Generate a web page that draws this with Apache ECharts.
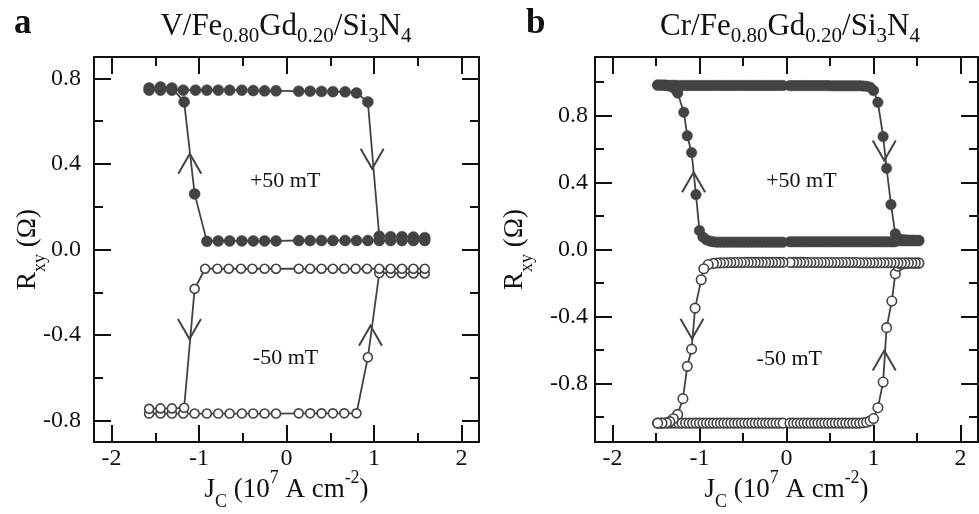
<!DOCTYPE html>
<html><head><meta charset="utf-8">
<script src="https://cdn.jsdelivr.net/npm/echarts@6/dist/echarts.min.js"></script>
<style>html,body{margin:0;padding:0;background:#fff}#c{width:979px;height:514px}</style>
</head><body><div id="c"></div><script>
// ---------------- DATA ----------------
// Panel a : V/Fe0.80Gd0.20/Si3N4  (sweep order: -J -> +J, then +J -> -J)
const aFilledJ = [-1.57,-1.44,-1.31,-1.18,-1.04,-0.91,-0.78,-0.65,-0.51,-0.38,-0.25,-0.12,0.14,0.27,0.40,0.53,0.67,0.80,0.93,1.06,1.19,1.32,1.45,1.58,
                  1.58,1.45,1.32,1.19,1.06,0.93,0.80,0.67,0.53,0.40,0.27,0.14,-0.12,-0.25,-0.38,-0.51,-0.65,-0.78,-0.91,-1.05,-1.17,-1.31,-1.44,-1.57];
const aFilledR = [0.745,0.745,0.745,0.745,0.745,0.745,0.745,0.745,0.745,0.743,0.742,0.742,0.740,0.740,0.739,0.738,0.737,0.732,0.690,0.062,0.060,0.060,0.058,0.055,
                  0.042,0.042,0.042,0.042,0.042,0.042,0.042,0.042,0.042,0.042,0.042,0.042,0.040,0.040,0.040,0.040,0.040,0.040,0.038,0.260,0.690,0.755,0.760,0.755];
const aOpenJ = [-1.57,-1.44,-1.31,-1.18,-1.05,-0.91,-0.78,-0.65,-0.51,-0.38,-0.25,-0.12,0.14,0.27,0.40,0.53,0.66,0.80,0.93,1.06,1.19,1.32,1.45,1.58,
                1.58,1.45,1.32,1.19,1.06,0.92,0.79,0.66,0.53,0.40,0.27,0.14,-0.12,-0.25,-0.39,-0.52,-0.66,-0.79,-0.93,-1.05,-1.17,-1.31,-1.44,-1.57];
const aOpenR = [-0.767,-0.767,-0.767,-0.767,-0.767,-0.767,-0.767,-0.767,-0.767,-0.767,-0.767,-0.767,-0.766,-0.766,-0.766,-0.766,-0.766,-0.766,-0.504,-0.110,-0.110,-0.112,-0.112,-0.112,
                -0.090,-0.090,-0.090,-0.090,-0.090,-0.090,-0.090,-0.090,-0.090,-0.090,-0.090,-0.090,-0.090,-0.090,-0.090,-0.090,-0.090,-0.090,-0.090,-0.184,-0.740,-0.743,-0.743,-0.745];

// Panel b : Cr/Fe0.80Gd0.20/Si3N4
const bFilledJ = [-1.48,-1.44,-1.40,-1.36,-1.32,-1.28,-1.24,-1.20,-1.16,-1.12,-1.08,-1.04,-1.00,-0.96,-0.92,-0.88,-0.84,-0.80,-0.76,-0.72,-0.68,-0.64,-0.60,-0.56,-0.52,-0.48,-0.44,-0.40,-0.36,-0.32,-0.28,-0.24,-0.20,-0.16,-0.12,-0.08,-0.04,
                  0.04,0.08,0.12,0.16,0.20,0.24,0.28,0.32,0.36,0.40,0.44,0.48,0.52,0.56,0.60,0.64,0.68,0.72,0.76,0.80,0.84,0.88,0.92,0.96,
                  1.00,1.05,1.11,1.15,1.20,1.25,
                  1.28,1.32,1.36,1.40,1.44,1.48,1.52,
                  1.52,1.48,1.44,1.40,1.36,1.32,1.28,1.24,1.20,1.16,1.12,1.08,1.04,1.00,0.96,0.92,0.88,0.84,0.80,0.76,0.72,0.68,0.64,0.60,0.56,0.52,0.48,0.44,0.40,0.36,0.32,0.28,0.24,0.20,0.16,0.12,0.08,0.04,
                  -0.04,-0.08,-0.12,-0.16,-0.20,-0.24,-0.28,-0.32,-0.36,-0.40,-0.44,-0.48,-0.52,-0.56,-0.60,-0.64,-0.68,-0.72,-0.76,-0.80,-0.84,-0.88,-0.92,-0.96,
                  -1.00,-1.04,-1.09,-1.14,-1.18,-1.25,
                  -1.28,-1.32,-1.36,-1.40,-1.44,-1.48];
const bFilledR = [0.982,0.982,0.982,0.981,0.981,0.981,0.980,0.980,0.980,0.980,0.980,0.980,0.980,0.980,0.980,0.980,0.980,0.980,0.980,0.980,0.980,0.980,0.980,0.980,0.980,0.980,0.980,0.980,0.980,0.980,0.980,0.980,0.980,0.980,0.980,0.980,0.980,
                  0.979,0.979,0.979,0.979,0.979,0.979,0.979,0.979,0.979,0.979,0.979,0.979,0.978,0.978,0.978,0.978,0.978,0.978,0.978,0.978,0.978,0.977,0.975,0.970,
                  0.950,0.879,0.675,0.485,0.269,0.094,
                  0.066,0.060,0.058,0.056,0.056,0.055,0.055,
                  0.052,0.052,0.052,0.052,0.052,0.052,0.052,0.046,0.046,0.046,0.046,0.046,0.046,0.046,0.046,0.046,0.046,0.046,0.046,0.046,0.046,0.046,0.046,0.046,0.046,0.046,0.046,0.046,0.046,0.046,0.046,0.046,0.046,0.046,0.046,0.046,0.046,0.046,
                  0.044,0.044,0.044,0.044,0.044,0.044,0.044,0.044,0.044,0.044,0.044,0.044,0.044,0.044,0.044,0.044,0.044,0.044,0.044,0.044,0.046,0.050,0.058,0.075,
                  0.113,0.328,0.579,0.680,0.820,0.935,
                  0.958,0.972,0.978,0.981,0.982,0.982];
const bOpenJ = [-1.48,-1.44,-1.40,-1.36,-1.32,-1.28,-1.24,-1.20,-1.16,-1.12,-1.08,-1.04,-1.00,-0.96,-0.92,-0.88,-0.84,-0.80,-0.76,-0.72,-0.68,-0.64,-0.60,-0.56,-0.52,-0.48,-0.44,-0.40,-0.36,-0.32,-0.28,-0.24,-0.20,-0.16,-0.12,-0.08,-0.04,
                0.04,0.08,0.12,0.16,0.20,0.24,0.28,0.32,0.36,0.40,0.44,0.48,0.52,0.56,0.60,0.64,0.68,0.72,0.76,0.80,0.84,0.88,0.92,0.96,
                1.00,1.05,1.11,1.15,1.21,1.25,
                1.28,1.32,1.36,1.40,1.44,1.48,1.52,
                1.52,1.48,1.44,1.40,1.36,1.32,1.28,1.24,1.20,1.16,1.12,1.08,1.04,1.00,0.96,0.92,0.88,0.84,0.80,0.76,0.72,0.68,0.64,0.60,0.56,0.52,0.48,0.44,0.40,0.36,0.32,0.28,0.24,0.20,0.16,0.12,0.08,0.04,
                -0.04,-0.08,-0.12,-0.16,-0.20,-0.24,-0.28,-0.32,-0.36,-0.40,-0.44,-0.48,-0.52,-0.56,-0.60,-0.64,-0.68,-0.72,-0.76,-0.80,-0.84,
                -0.90,-0.95,-0.98,-1.05,-1.09,-1.14,-1.19,-1.25,-1.30,
                -1.34,-1.38,-1.43,-1.48];
const bOpenR = [-1.037,-1.037,-1.037,-1.037,-1.037,-1.037,-1.037,-1.037,-1.037,-1.037,-1.037,-1.037,-1.037,-1.037,-1.037,-1.037,-1.037,-1.037,-1.037,-1.037,-1.037,-1.037,-1.037,-1.037,-1.037,-1.037,-1.037,-1.037,-1.037,-1.037,-1.037,-1.037,-1.037,-1.037,-1.037,-1.037,-1.037,
                -1.037,-1.037,-1.037,-1.037,-1.037,-1.037,-1.037,-1.037,-1.037,-1.037,-1.037,-1.037,-1.037,-1.037,-1.037,-1.037,-1.037,-1.037,-1.037,-1.037,-1.037,-1.035,-1.032,-1.024,
                -1.010,-0.945,-0.792,-0.467,-0.308,-0.145,
                -0.100,-0.088,-0.084,-0.082,-0.082,-0.082,-0.082,
                -0.080,-0.080,-0.080,-0.080,-0.080,-0.080,-0.080,-0.079,-0.079,-0.079,-0.079,-0.079,-0.079,-0.079,-0.079,-0.079,-0.079,-0.079,-0.078,-0.078,-0.078,-0.078,-0.078,-0.078,-0.078,-0.078,-0.078,-0.078,-0.078,-0.078,-0.078,-0.078,-0.078,-0.077,-0.077,-0.077,-0.077,-0.077,
                -0.077,-0.077,-0.077,-0.077,-0.077,-0.077,-0.077,-0.077,-0.077,-0.077,-0.077,-0.077,-0.078,-0.078,-0.078,-0.078,-0.079,-0.079,-0.080,-0.081,-0.083,
                -0.090,-0.115,-0.181,-0.350,-0.595,-0.698,-0.891,-0.985,-1.011,
                -1.028,-1.035,-1.037,-1.037];

// Sweep-direction arrows: position and direction (+1 up, -1 down)
const aArrowJ = [-1.105, 0.979, -1.109, 0.960];
const aArrowR = [0.448, 0.378, -0.418, -0.356];
const aArrowDir = [1, -1, -1, 1];
const bArrowJ = [-1.067, 1.123, -1.086, 1.123];
const bArrowR = [0.461, 0.531, -0.533, -0.603];
const bArrowDir = [1, -1, -1, 1];

// Field annotations
const fieldText = ['+50 mT', '-50 mT'];
const aTextJ = [-0.015, -0.011];
const aTextR = [0.321, -0.508];
const bTextJ = [0.171, 0.032];
const bTextR = [0.409, -0.653];

// Axes
const xMajor = [-2, -1, 0, 1, 2];
const xMinor = [-1.5, -0.5, 0.5, 1.5];
const yMajor = [-0.8, -0.4, 0, 0.4, 0.8];
const aYMinor = [-0.6, -0.2, 0.2, 0.6];
const bYMinor = [-1.0, -0.6, -0.2, 0.2, 0.6, 1.0];
const titles = ['{m|V/Fe}{s|0.80}{m|Gd}{s|0.20}{m|/Si}{s|3}{m|N}{s|4}', '{m|Cr/Fe}{s|0.80}{m|Gd}{s|0.20}{m|/Si}{s|3}{m|N}{s|4}'];
const panelLetters = ['a', 'b'];

// ---------------- STYLE / BUILD ----------------
const FONT = '"Liberation Serif","Times New Roman",serif';
const INK = '#111';
const MARK = '#434343';
const pairs = (J, R) => J.map((j, i) => [j, R[i]]);

const richName = {
  m: {fontFamily: FONT, fontSize: 27, lineHeight: 42, color: INK},
  s: {fontFamily: FONT, fontSize: 18, lineHeight: 20, verticalAlign: 'bottom', color: INK},
  p: {fontFamily: FONT, fontSize: 18, lineHeight: 16, verticalAlign: 'top', color: INK}
};
const lineStyleInk = {color: INK, width: 2};
const TICKFONT = 24;

function xAxesFor(g) {
  const base = {type: 'value', gridIndex: g, min: -2.2, max: 2.2, splitLine: {show: false},
    axisLine: {onZero: false, lineStyle: lineStyleInk}};
  return [
    Object.assign({}, base, {position: 'bottom',
      axisTick: {inside: true, length: 17, customValues: xMajor, lineStyle: lineStyleInk},
      axisLabel: {customValues: xMajor, margin: 5, fontFamily: FONT, fontSize: TICKFONT, color: INK, formatter: v => String(Math.round(v))},
      name: '{m|J}{s|C}{m| (10}{p|7}{m| A cm}{p|-2}{m|)}', nameLocation: 'middle', nameGap: 27, nameMoveOverlap: false,
      nameTextStyle: {rich: richName}}),
    Object.assign({}, base, {position: 'bottom', axisLine: {show: false, onZero: false},
      axisTick: {inside: true, length: 9, customValues: xMinor, lineStyle: lineStyleInk}, axisLabel: {show: false}}),
    Object.assign({}, base, {position: 'top',
      axisTick: {inside: true, length: 17, customValues: xMajor, lineStyle: lineStyleInk}, axisLabel: {show: false}}),
    Object.assign({}, base, {position: 'top', axisLine: {show: false, onZero: false},
      axisTick: {inside: true, length: 9, customValues: xMinor, lineStyle: lineStyleInk}, axisLabel: {show: false}})
  ];
}
function yAxesFor(g, min, max, minor, margin, nameGap) {
  const base = {type: 'value', gridIndex: g, min: min, max: max, splitLine: {show: false},
    axisLine: {onZero: false, lineStyle: lineStyleInk}};
  return [
    Object.assign({}, base, {position: 'left',
      axisTick: {inside: true, length: 17, customValues: yMajor, lineStyle: lineStyleInk},
      axisLabel: {customValues: yMajor, margin: margin, fontFamily: FONT, fontSize: TICKFONT, color: INK, formatter: v => (Math.abs(v) < 1e-9 ? 0 : v).toFixed(1)},
      name: '{m|R}{s|xy}{m| (Ω)}', nameLocation: 'middle', nameGap: nameGap, nameMoveOverlap: false, nameTextStyle: {rich: richName}}),
    Object.assign({}, base, {position: 'left', axisLine: {show: false, onZero: false},
      axisTick: {inside: true, length: 9, customValues: minor, lineStyle: lineStyleInk}, axisLabel: {show: false}}),
    Object.assign({}, base, {position: 'right',
      axisTick: {inside: true, length: 17, customValues: yMajor, lineStyle: lineStyleInk}, axisLabel: {show: false}}),
    Object.assign({}, base, {position: 'right', axisLine: {show: false, onZero: false},
      axisTick: {inside: true, length: 9, customValues: minor, lineStyle: lineStyleInk}, axisLabel: {show: false}})
  ];
}

function loopSeries(g, J, R, filled, size) {
  return {
    type: 'line', xAxisIndex: 4 * g, yAxisIndex: 4 * g, data: pairs(J, R),
    symbol: 'circle', symbolSize: size, showAllSymbol: true, animation: false,
    lineStyle: {color: MARK, width: 1.8},
    itemStyle: filled ? {color: MARK, borderColor: MARK, borderWidth: 0.5} : {color: '#fff', borderColor: MARK, borderWidth: 1.6},
    emphasis: {disabled: true}, z: 3
  };
}
function arrowSeries(g, J, R, D) {
  return {
    type: 'custom', xAxisIndex: 4 * g, yAxisIndex: 4 * g, animation: false, z: 4,
    data: J.map((j, i) => [j, R[i], D[i]]),
    renderItem: (params, api) => {
      const p = api.coord([api.value(0), api.value(1)]);
      const d = api.value(2);
      return {type: 'polyline', shape: {points: [[p[0] - 11.5, p[1] + 20 * d], [p[0], p[1]], [p[0] + 11.5, p[1] + 20 * d]]},
        style: {stroke: MARK, lineWidth: 2, fill: null}};
    }
  };
}
function textSeries(g, J, R) {
  return {
    type: 'custom', xAxisIndex: 4 * g, yAxisIndex: 4 * g, animation: false, z: 4,
    data: J.map((j, i) => [j, R[i], i]),
    renderItem: (params, api) => {
      const p = api.coord([api.value(0), api.value(1)]);
      return {type: 'text', x: p[0], y: p[1],
        style: {text: fieldText[api.value(2)], font: '22px ' + FONT, fill: INK, align: 'center', verticalAlign: 'middle'}};
    }
  };
}

const grids = [
  {left: 94, top: 57, width: 385, height: 385, containLabel: false, outerBoundsMode: 'none'},
  {left: 595, top: 57, width: 383, height: 385, containLabel: false, outerBoundsMode: 'none'}
];
const titleCenters = [286, 790];
const letterX = [14, 526];

const graphics = [];
titles.forEach((t, i) => {
  graphics.push({type: 'text', x: titleCenters[i], y: 27, silent: true,
    style: {text: t, align: 'center', verticalAlign: 'middle',
      rich: {m: {fontFamily: FONT, fontSize: 31, lineHeight: 40, fill: INK, color: INK},
             s: {fontFamily: FONT, fontSize: 21, lineHeight: 24, verticalAlign: 'bottom', fill: INK, color: INK}}}});
  graphics.push({type: 'text', x: letterX[i], y: 24, silent: true,
    style: {text: panelLetters[i], font: 'bold 35px ' + FONT, fill: INK, align: 'left', verticalAlign: 'middle'}});
});

const option = {
  backgroundColor: '#fff',
  animation: false,
  grid: grids,
  xAxis: [].concat(xAxesFor(0), xAxesFor(1)),
  yAxis: [].concat(yAxesFor(0, -0.9, 0.9, aYMinor, 13, 45), yAxesFor(1, -1.15, 1.15, bYMinor, 7, 59)),
  series: [
    loopSeries(0, aFilledJ, aFilledR, true, 11),
    loopSeries(0, aOpenJ, aOpenR, false, 9),
    loopSeries(1, bFilledJ, bFilledR, true, 10.5),
    loopSeries(1, bOpenJ, bOpenR, false, 9.5),
    arrowSeries(0, aArrowJ, aArrowR, aArrowDir),
    arrowSeries(1, bArrowJ, bArrowR, bArrowDir),
    textSeries(0, aTextJ, aTextR),
    textSeries(1, bTextJ, bTextR)
  ],
  graphic: graphics
};
const chart = echarts.init(document.getElementById('c'), null, {renderer: 'canvas'});
chart.setOption(option);
</script></body></html>
